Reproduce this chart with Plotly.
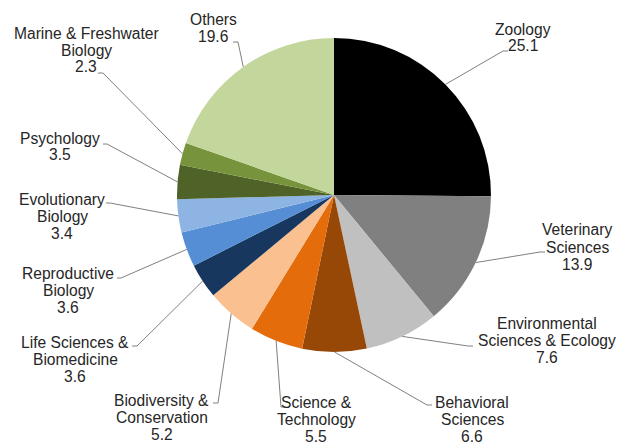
import math
import plotly.graph_objects as go

W, H = 617, 448

# Subject categories, clockwise from 12 o'clock
categories = [
    "Zoology", "Veterinary Sciences", "Environmental Sciences & Ecology",
    "Behavioral Sciences", "Science & Technology", "Biodiversity & Conservation",
    "Life Sciences & Biomedicine", "Reproductive Biology", "Evolutionary Biology",
    "Psychology", "Marine & Freshwater Biology", "Others",
]
values = [25.1, 13.9, 7.6, 6.6, 5.5, 5.2, 3.6, 3.6, 3.4, 3.5, 2.3, 19.6]
label_lines = [
    ["Zoology"],
    ["Veterinary", "Sciences"],
    ["Environmental", "Sciences & Ecology"],
    ["Behavioral", "Sciences"],
    ["Science &", "Technology"],
    ["Biodiversity &", "Conservation"],
    ["Life Sciences &", "Biomedicine"],
    ["Reproductive", "Biology"],
    ["Evolutionary", "Biology"],
    ["Psychology"],
    ["Marine & Freshwater", "Biology"],
    ["Others"],
]
colors = [
    "#000000", "#808080", "#c0c0c0", "#974706", "#e46c0a", "#fac090",
    "#17375e", "#558ed5", "#8eb4e3", "#4f6228", "#77933c", "#c3d69b",
]

# Pie geometry (pixels)
CX, CY, R = 334, 195, 157

# Label placement: text centre x, first-line y, leader elbow, leader end (pixels)
label_x = [523, 577, 547, 472, 316, 162, 75, 68, 62, 60, 86, 213]
label_y = [29, 230, 323, 402, 402, 400, 342, 273, 199, 138, 33, 19]
elbow = [(503, 51), (540, 252), (468, 346), (427, 405), (281, 407), (218, 403),
         (137, 346), (121, 278), (110, 203), (107, 144), (103, 73), (238, 42)]
tail = [(508, 51), (545, 252), (473, 346), (432, 405), (286, 407), (213, 403),
        (132, 346), (117, 278), (106, 203), (103, 144), (98, 73), (233, 42)]
LINE_H = 17


def px(x):
    return x / W


def py(y):
    return 1 - y / H


fig = go.Figure(go.Pie(
    labels=categories,
    values=values,
    sort=False,
    direction="clockwise",
    rotation=0,
    marker=dict(colors=colors, line=dict(width=0)),
    textinfo="none",
    hoverinfo="label+value",
    showlegend=False,
    domain=dict(x=[px(CX - R), px(CX + R)], y=[py(CY + R), py(CY - R)]),
))

total = sum(values)
shapes = []
annotations = []
cum = 0.0
for i, v in enumerate(values):
    mid = (cum + v / 2) / total * 2 * math.pi
    cum += v
    ex = CX + R * math.sin(mid)
    ey = CY - R * math.cos(mid)
    (bx, by), (tx, ty) = elbow[i], tail[i]
    shapes.append(dict(
        type="path", xref="paper", yref="paper",
        path=f"M {px(ex)},{py(ey)} L {px(bx)},{py(by)} L {px(tx)},{py(ty)}",
        line=dict(color="#808080", width=1),
    ))
    lines = label_lines[i] + [f"{v:.1f}"]
    for k, t in enumerate(lines):
        annotations.append(dict(
            x=px(label_x[i]), y=py(label_y[i] + k * LINE_H),
            xref="paper", yref="paper", text=t, showarrow=False,
            xanchor="center", yanchor="middle",
            font=dict(family="Liberation Sans, Arial, sans-serif", size=15.6, color="#262626"),
        ))

fig.update_layout(
    width=W, height=H,
    margin=dict(l=0, r=0, t=0, b=0),
    paper_bgcolor="white", plot_bgcolor="white",
    shapes=shapes, annotations=annotations,
)

fig.write_html("out.html")
